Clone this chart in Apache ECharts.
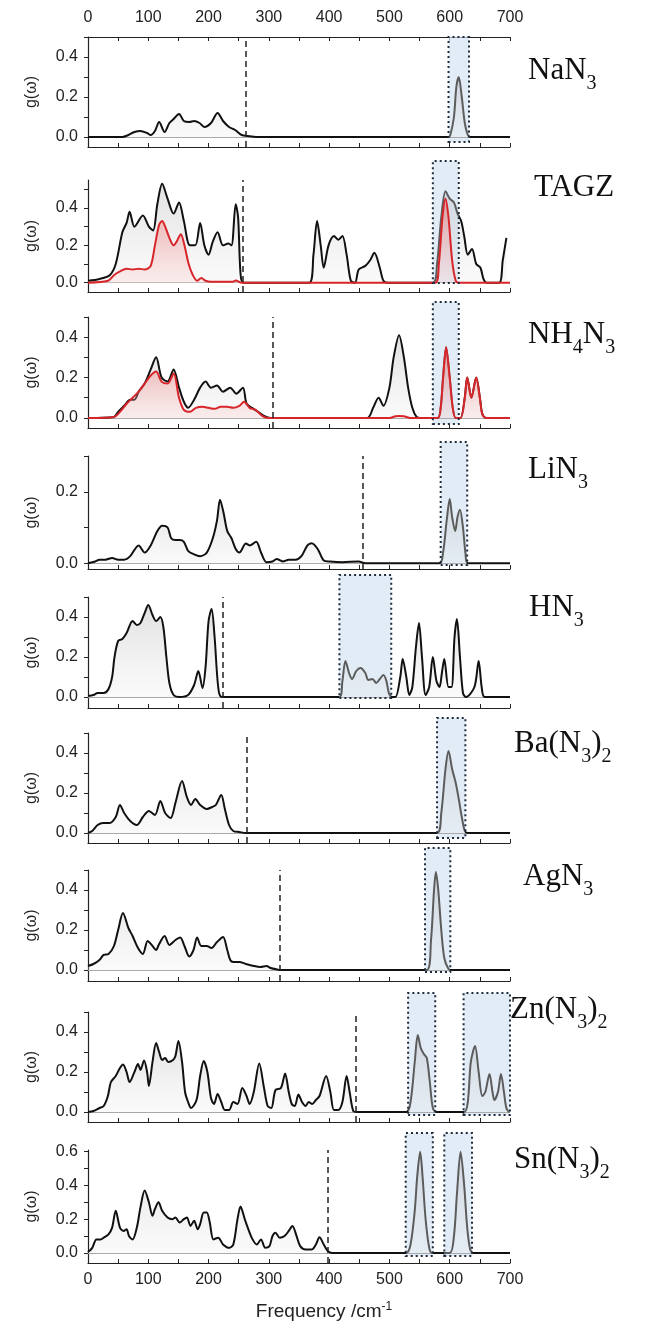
<!DOCTYPE html>
<html><head><meta charset="utf-8">
<script src="https://cdn.jsdelivr.net/npm/echarts@6/dist/echarts.min.js"></script>
<style>html,body{margin:0;padding:0;background:#fff}#c{width:645px;height:1328px}</style>
</head><body><div id="c"></div>
<script>
// ---------------- DATA ----------------
const compounds = ['NaN3','TAGZ','NH4N3','LiN3','HN3','Ba(N3)2','AgN3','Zn(N3)2','Sn(N3)2'];
const xTickLabels = [0,100,200,300,400,500,600,700];
const xTickMarks = [0,50,100,150,200,250,300,350,400,450,500,550,600,650,700];
const yLabelsStd = [0,0.2,0.4];
const yLabelsLi = [0,0.2];
const yLabelsSn = [0,0.2,0.4,0.6];
const yTicksStd = [0,0.1,0.2,0.3,0.4,0.5];
const yTicksLi = [0,0.1,0.2,0.3];
const yTicksSn = [0,0.1,0.2,0.3,0.4,0.5,0.6];

const dosNaN3 = [[0,0],[57,0],[67,0.01],[77,0.025],[87,0.03],[98,0.02],[104,0.01],[111,0.03],[118,0.075],[127,0.025],[135,0.07],[142,0.09],[151,0.115],[159,0.08],[168,0.075],[176,0.08],[185,0.07],[193,0.05],[204,0.07],[215,0.12],[224,0.08],[234,0.05],[244,0.035],[255,0.01],[265,0.005],[279,0],[598,0],[601,0.01],[607,0.1],[611,0.25],[615,0.3],[620,0.2],[625,0.07],[630,0.01],[634,0],[700,0]];
const dosTAGZ = [[0,0.01],[19,0.02],[36,0.04],[46,0.1],[57,0.27],[64,0.32],[69,0.38],[77,0.3],[91,0.36],[101,0.3],[108,0.28],[115,0.42],[123,0.53],[132,0.45],[142,0.37],[151,0.43],[159,0.33],[169,0.2],[178,0.2],[186,0.32],[193,0.2],[200,0.15],[207,0.22],[215,0.27],[224,0.2],[233,0.21],[238,0.2],[245,0.42],[249,0.35],[253,0.05],[258,0],[367,0],[374,0.15],[380,0.33],[386,0.2],[391,0.08],[399,0.2],[408,0.25],[415,0.23],[422,0.25],[429,0.15],[436,0.01],[443,0],[449,0.07],[460,0.09],[468,0.12],[475,0.16],[484,0.08],[490,0.01],[497,0],[572,0],[579,0.1],[586,0.35],[593,0.49],[600,0.45],[607,0.43],[613,0.37],[619,0.33],[624,0.25],[630,0.15],[637,0.18],[644,0.1],[651,0.08],[656,0.02],[661,0],[682,0],[688,0.12],[694,0.24]];
const partTAGZ = [[0,0],[33,0.01],[43,0.04],[53,0.06],[64,0.075],[74,0.07],[84,0.075],[94,0.07],[104,0.09],[111,0.2],[118,0.31],[123,0.33],[128,0.3],[135,0.24],[142,0.2],[147,0.22],[154,0.26],[160,0.2],[167,0.1],[174,0.04],[181,0.01],[188,0.025],[195,0.01],[204,0.005],[240,0.005],[245,0.012],[255,0],[576,0],[582,0.1],[588,0.35],[593,0.45],[598,0.35],[604,0.12],[610,0.01],[615,0],[700,0]];
const dosNH4N3 = [[0,0],[43,0.005],[50,0.03],[60,0.06],[70,0.09],[77,0.09],[84,0.13],[94,0.17],[104,0.24],[113,0.3],[122,0.2],[132,0.18],[142,0.24],[151,0.15],[159,0.08],[166,0.05],[176,0.09],[186,0.15],[195,0.18],[204,0.15],[214,0.16],[224,0.13],[236,0.15],[246,0.12],[257,0.15],[263,0.07],[272,0.05],[282,0.03],[292,0.01],[303,0],[463,0],[473,0.05],[482,0.1],[490,0.06],[500,0.15],[507,0.3],[516,0.41],[524,0.3],[531,0.15],[538,0.05],[545,0.005],[552,0],[580,0],[585,0.05],[589,0.2],[594,0.35],[600,0.2],[605,0.05],[610,0],[618,0],[625,0.1],[629,0.2],[636,0.1],[644,0.2],[650,0.1],[654,0.02],[660,0],[700,0]];
const partNH4N3 = [[0,0],[43,0.005],[53,0.03],[64,0.07],[74,0.1],[84,0.13],[94,0.17],[104,0.21],[113,0.23],[122,0.18],[132,0.17],[142,0.22],[151,0.1],[159,0.04],[169,0.03],[179,0.05],[190,0.055],[200,0.05],[210,0.045],[220,0.055],[230,0.055],[241,0.05],[251,0.06],[259,0.08],[268,0.05],[278,0.04],[289,0.01],[299,0],[500,0],[510,0.008],[516,0.01],[524,0.008],[535,0],[580,0],[585,0.05],[589,0.2],[594,0.35],[600,0.2],[605,0.05],[610,0],[618,0],[625,0.1],[629,0.2],[636,0.1],[644,0.2],[650,0.1],[654,0.02],[660,0],[700,0]];
const dosLiN3 = [[0,0],[12,0.005],[19,0.01],[29,0.01],[40,0.015],[50,0.01],[60,0.01],[70,0.02],[84,0.05],[94,0.03],[104,0.05],[115,0.09],[123,0.105],[132,0.1],[138,0.07],[145,0.065],[152,0.065],[159,0.06],[166,0.035],[176,0.025],[186,0.02],[197,0.03],[207,0.07],[214,0.12],[219,0.178],[225,0.14],[231,0.09],[238,0.07],[245,0.04],[251,0.03],[262,0.055],[268,0.05],[279,0.06],[287,0.03],[296,0.003],[306,0.005],[313,0.012],[323,0.005],[333,0.01],[344,0.01],[354,0.02],[364,0.05],[371,0.056],[381,0.04],[391,0.008],[401,0.005],[422,0.003],[449,0.005],[460,0],[583,0],[589,0.03],[595,0.12],[600,0.18],[604,0.13],[609,0.09],[613,0.13],[617,0.15],[622,0.1],[626,0.03],[630,0],[700,0]];
const dosHN3 = [[0,0.005],[9,0.01],[16,0.02],[26,0.02],[34,0.04],[40,0.1],[44,0.2],[50,0.28],[57,0.29],[64,0.32],[74,0.38],[81,0.36],[87,0.37],[94,0.42],[100,0.46],[107,0.41],[113,0.38],[120,0.4],[125,0.35],[130,0.2],[135,0.07],[142,0.01],[152,0],[166,0.01],[176,0.06],[183,0.13],[190,0.045],[195,0.15],[200,0.38],[205,0.44],[210,0.3],[216,0.05],[222,0],[417,0],[422,0.08],[427,0.18],[433,0.12],[438,0.09],[445,0.13],[452,0.145],[460,0.12],[465,0.085],[472,0.09],[478,0.07],[484,0.09],[490,0.11],[495,0.08],[499,0.02],[504,0],[510,0],[518,0.1],[522,0.19],[528,0.1],[533,0.01],[538,0.05],[544,0.25],[549,0.37],[554,0.2],[560,0.01],[566,0.05],[572,0.2],[578,0.08],[583,0.05],[587,0.12],[591,0.19],[598,0.05],[603,0.05],[608,0.3],[612,0.39],[617,0.2],[622,0.02],[627,0],[641,0.05],[648,0.18],[653,0.05],[658,0],[700,0]];
const dosBaN6 = [[0,0],[7,0.01],[16,0.04],[25,0.05],[36,0.05],[46,0.08],[53,0.14],[60,0.1],[70,0.06],[81,0.04],[91,0.08],[101,0.11],[111,0.09],[120,0.16],[128,0.1],[137,0.075],[145,0.15],[156,0.26],[164,0.18],[171,0.14],[178,0.17],[186,0.14],[197,0.12],[206,0.13],[212,0.14],[221,0.19],[227,0.12],[234,0.04],[241,0.01],[251,0.005],[262,0],[579,0],[586,0.1],[593,0.32],[598,0.41],[604,0.32],[610,0.25],[615,0.17],[620,0.08],[625,0.01],[630,0],[700,0]];
const dosAgN3 = [[0,0.02],[9,0.03],[19,0.05],[26,0.076],[34,0.08],[43,0.12],[50,0.2],[58,0.285],[67,0.21],[74,0.17],[83,0.11],[91,0.08],[99,0.145],[107,0.12],[113,0.1],[118,0.13],[127,0.17],[135,0.125],[145,0.15],[153,0.163],[160,0.12],[168,0.068],[175,0.1],[181,0.163],[188,0.12],[197,0.12],[205,0.11],[214,0.14],[224,0.165],[231,0.1],[236,0.05],[241,0.04],[251,0.04],[262,0.03],[275,0.02],[286,0.015],[296,0.02],[303,0.01],[313,0.003],[320,0],[562,0],[569,0.15],[574,0.4],[577,0.49],[581,0.4],[586,0.2],[591,0.06],[598,0.005],[603,0],[700,0]];
const dosZnN6 = [[0,0],[9,0.005],[19,0.02],[26,0.03],[33,0.08],[38,0.15],[46,0.18],[53,0.22],[58,0.237],[64,0.2],[69,0.15],[77,0.2],[83,0.24],[87,0.21],[93,0.258],[98,0.2],[101,0.13],[107,0.25],[113,0.345],[118,0.3],[123,0.26],[128,0.27],[133,0.25],[141,0.26],[145,0.28],[150,0.355],[156,0.25],[161,0.1],[166,0.05],[171,0.02],[180,0.06],[186,0.18],[192,0.255],[198,0.2],[204,0.07],[209,0.04],[215,0.09],[221,0.05],[227,0.01],[234,0.01],[241,0.05],[248,0.04],[256,0.12],[263,0.08],[268,0.04],[275,0.1],[284,0.243],[292,0.12],[298,0.03],[304,0.02],[311,0.11],[320,0.12],[327,0.193],[333,0.1],[338,0.04],[343,0.03],[349,0.087],[355,0.05],[361,0.03],[366,0.05],[372,0.04],[378,0.06],[384,0.08],[395,0.18],[402,0.1],[408,0.01],[415,0.01],[422,0.05],[429,0.18],[434,0.1],[440,0.005],[446,0],[528,0],[535,0.05],[542,0.25],[547,0.385],[552,0.32],[557,0.29],[562,0.27],[567,0.15],[572,0.02],[578,0],[624,0],[630,0.05],[635,0.25],[642,0.33],[648,0.2],[654,0.08],[659,0.1],[666,0.19],[671,0.1],[674,0.06],[680,0.1],[685,0.19],[690,0.1],[694,0.02],[699,0],[700,0]];
const dosSnN6 = [[0,0.005],[7,0.03],[14,0.08],[21,0.08],[26,0.09],[34,0.11],[40,0.15],[46,0.25],[53,0.15],[59,0.13],[64,0.14],[68,0.1],[74,0.08],[81,0.15],[87,0.27],[94,0.37],[101,0.3],[107,0.22],[111,0.26],[117,0.3],[123,0.25],[132,0.21],[140,0.2],[145,0.21],[152,0.18],[159,0.2],[164,0.21],[170,0.16],[176,0.19],[182,0.14],[186,0.17],[192,0.24],[197,0.24],[202,0.18],[208,0.08],[216,0.09],[224,0.05],[234,0.03],[241,0.05],[248,0.2],[253,0.275],[260,0.2],[266,0.14],[273,0.08],[280,0.05],[287,0.08],[294,0.03],[301,0.04],[306,0.1],[311,0.12],[318,0.09],[326,0.1],[333,0.13],[339,0.16],[346,0.1],[352,0.04],[361,0.02],[371,0.02],[378,0.05],[384,0.092],[391,0.05],[398,0.01],[405,0],[528,0],[535,0.05],[542,0.25],[546,0.45],[551,0.6],[555,0.45],[560,0.2],[566,0.03],[571,0],[600,0],[607,0.1],[612,0.35],[618,0.6],[624,0.4],[629,0.15],[634,0.02],[639,0],[700,0]];

const totals = [dosNaN3,dosTAGZ,dosNH4N3,dosLiN3,dosHN3,dosBaN6,dosAgN3,dosZnN6,dosSnN6];
const partials = [null,partTAGZ,partNH4N3,null,null,null,null,null,null];
const cutoffs = [262,257,306,456,224,264,318,444,398];
const boxRanges = [[[598,632]],[[572,615]],[[572,615]],[[585,629]],[[417,503]],[[579,626]],[[559,601]],[[531,576],[623,702]],[[527,572],[591,637]]];
const yMins = [-0.05,-0.05,-0.05,-0.016,-0.055,-0.05,-0.055,-0.05,-0.06];
const yMaxs = [0.5,0.55,0.5,0.3,0.5,0.5,0.5,0.5,0.61];
const yLabelSets = [yLabelsStd,yLabelsStd,yLabelsStd,yLabelsLi,yLabelsStd,yLabelsStd,yLabelsStd,yLabelsStd,yLabelsSn];
const yTickSets = [yTicksStd,yTicksStd,yTicksStd,yTicksLi,yTicksStd,yTicksStd,yTicksStd,yTicksStd,yTicksSn];

// ---------------- LAYOUT ----------------
const L = 88, R = 135;
const gridTop = [37,180,317,456,597,733,870,1012,1150];
const gridH = [110,112,111,113,111,110,111,110,113];
const boxTop = [37,161,302,442,575,718,848,993,1133];
const boxBot = [142,283,424,565,698,838,972,1115,1256];
const labelPos = [[528,55],[534,172],[528,319],[528,454],[529,592],[514,728],[523,861],[510,994],[514,1144]];

const chart = echarts.init(document.getElementById('c'), null, {renderer:'canvas'});
const AX = '#222';
const grids = [], xAxes = [], yAxes = [], series = [], titles = [], visualMaps = [];

function richName(n){
  let s = '{m|' + n.replace(/(\d+)/g, '}{s|$1}{m|') + '}';
  return s.replace(/\{m\|\}/g,'');
}

const grayFill = new echarts.graphic.LinearGradient(0,0,0,1,[{offset:0,color:'rgba(175,175,175,0.55)'},{offset:1,color:'rgba(235,235,235,0.35)'}]);
const redFill = new echarts.graphic.LinearGradient(0,0,0,1,[{offset:0,color:'rgba(235,70,70,0.6)'},{offset:1,color:'rgba(250,205,205,0.4)'}]);

for (let i = 0; i < 9; i++) {
  const last = i === 8;
  grids.push({left:L, right:R, top:gridTop[i], height:gridH[i], outerBoundsMode:'none', containLabel:false});
  xAxes.push({
    gridIndex:i, type:'value', min:0, max:700, position:'bottom',
    axisLine:{show:true, onZero:false, lineStyle:{color:AX, width:1.2}},
    axisTick:{show:true, inside:true, length:4, customValues:xTickMarks, lineStyle:{color:AX}},
    axisLabel:{show:last, customValues:xTickLabels, margin:9, color:'#222', fontSize:16, fontFamily:'Liberation Sans'},
    splitLine:{show:false},
    name: last ? 'Frequency /cm{sup|-1}' : '',
    nameLocation:'middle', nameGap:38,
    nameTextStyle:{fontSize:19, color:'#222', fontFamily:'Liberation Sans', padding:[0,0,0,50],
      rich:{sup:{fontSize:12, verticalAlign:'top', padding:[0,0,10,0], color:'#222', fontFamily:'Liberation Sans'}}}
  });
  yAxes.push({
    gridIndex:i, type:'value', min:yMins[i], max:yMaxs[i],
    axisLine:{show:true, onZero:false, lineStyle:{color:AX, width:1.2}},
    axisTick:{show:true, inside:false, length:4, customValues:yTickSets[i], lineStyle:{color:AX}},
    axisLabel:{customValues:yLabelSets[i], formatter:v=>v.toFixed(1), margin:10, color:'#222', fontSize:16, fontFamily:'Liberation Sans'},
    splitLine:{show:false},
    name:'g(ω)', nameLocation:'middle', nameRotate:90, nameGap:48,
    nameTextStyle:{fontSize:16, color:'#222', fontFamily:'Liberation Sans'}
  });
  titles.push({
    text: richName(compounds[i]), left:labelPos[i][0], top:labelPos[i][1], padding:0,
    textStyle:{fontWeight:'normal', rich:{
      m:{fontSize:31, fontWeight:'normal', fontFamily:'Liberation Serif', color:'#111', lineHeight:34, verticalAlign:'top'},
      s:{fontSize:20, fontWeight:'normal', fontFamily:'Liberation Serif', color:'#111', lineHeight:20, padding:[19,0,0,0], verticalAlign:'top'}
    }}
  });
}
// top axis on first panel
xAxes.push({
  gridIndex:0, type:'value', min:0, max:700, position:'top',
  axisLine:{show:true, onZero:false, lineStyle:{color:AX, width:1.2}},
  axisTick:{show:true, inside:true, length:4, customValues:xTickMarks, lineStyle:{color:AX}},
  axisLabel:{customValues:xTickLabels, margin:11, color:'#222', fontSize:16, fontFamily:'Liberation Sans'},
  splitLine:{show:false}
});
// overlay grids for highlighted boxes
for (let i = 0; i < 9; i++) {
  grids.push({left:L, right:R, top:boxTop[i], height:boxBot[i]-boxTop[i], outerBoundsMode:'none', containLabel:false});
  const gi = grids.length - 1;
  xAxes.push({gridIndex:gi, type:'value', min:0, max:700, show:false});
  yAxes.push({gridIndex:gi, type:'value', min:0, max:1, show:false});
}

for (let i = 0; i < 9; i++) {
  const ox = 10 + i, oy = 9 + i;
  const areas = boxRanges[i].map(r => [{xAxis:r[0], yAxis:0},{xAxis:r[1], yAxis:1}]);
  series.push({type:'line', xAxisIndex:ox, yAxisIndex:oy, data:[], silent:true,
    markArea:{silent:true, z:1, itemStyle:{color:'rgba(214,228,243,0.7)', borderWidth:0}, data:areas}});
  series.push({type:'line', xAxisIndex:ox, yAxisIndex:oy, data:[], silent:true,
    markArea:{silent:true, z:6, itemStyle:{color:'rgba(0,0,0,0)', borderColor:'#1e2b3a', borderWidth:2, borderType:[2,3]}, data:areas}});
  series.push({type:'line', xAxisIndex:i, yAxisIndex:i, data:[], silent:true,
    markLine:{silent:true, z:2, symbol:['none','none'], label:{show:false},
      lineStyle:{color:'#aaa', width:1, type:'solid'}, data:[{yAxis:0}]}});
  series.push({type:'line', xAxisIndex:i, yAxisIndex:i, data:totals[i], z:3, smooth:0.3,
    showSymbol:false, symbol:'none', lineStyle:{width:2},
    areaStyle:{color:grayFill, origin:0},
    markLine:{silent:true, z:5, symbol:['none','none'], label:{show:false},
      lineStyle:{color:'#222', width:1.5, type:[6,4]}, data:[{xAxis:cutoffs[i]}]}});
  visualMaps.push({type:'piecewise', show:false, seriesIndex:series.length-1, dimension:0,
    pieces:boxRanges[i].map(r=>({gte:r[0], lte:r[1], color:'#5c5c5c'})), outOfRange:{color:'#111'}});
  if (partials[i]) {
    series.push({type:'line', xAxisIndex:i, yAxisIndex:i, data:partials[i], z:4, smooth:0.3,
      showSymbol:false, symbol:'none', lineStyle:{width:2, color:'#d8252a'}, itemStyle:{color:'#d8252a'},
      areaStyle:{color:redFill, origin:0}});
  }
}

chart.setOption({
  animation:false, backgroundColor:'#fff',
  title:titles, grid:grids, xAxis:xAxes, yAxis:yAxes, visualMap:visualMaps, series:series
});
</script></body></html>
